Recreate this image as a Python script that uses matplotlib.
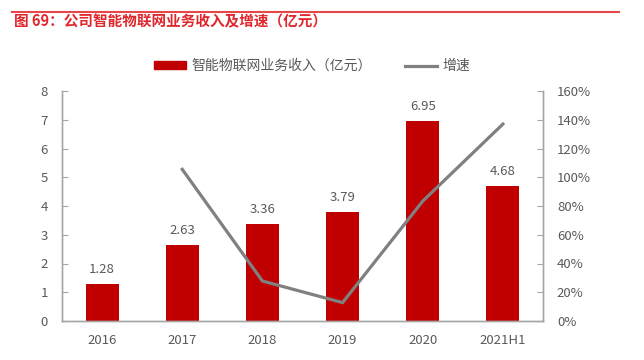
import matplotlib
matplotlib.use("Agg")
import matplotlib.pyplot as plt
from matplotlib.lines import Line2D
from matplotlib.ticker import FuncFormatter

plt.rcParams['font.family'] = ['Noto Sans CJK SC', 'DejaVu Sans']

categories = ["2016", "2017", "2018", "2019", "2020", "2021H1"]
revenue = [1.28, 2.63, 3.36, 3.79, 6.95, 4.68]
growth = [None, 105.5, 27.8, 12.8, 83.4, 137.0]

title = "图 69：公司智能物联网业务收入及增速（亿元）"
bar_label = "智能物联网业务收入（亿元）"
line_label = "增速"

red = "#C00000"
grey_line = "#808080"
text_col = "#595959"
spine_col = "#A6A6A6"

fig = plt.figure(figsize=(6.44, 3.6), dpi=100)
ax = fig.add_axes([62/644, 1-321/360, (543-62)/644, (321-91)/360])
ax2 = ax.twinx()

x = list(range(len(categories)))
bars = ax.bar(x, revenue, width=0.41, color=red, zorder=2)
for xi, v in zip(x, revenue):
    ax.annotate(f"{v:.2f}", (xi, v), xytext=(0, 6), textcoords="offset points",
                ha="center", va="bottom", fontsize=9.5, color=text_col)

gx = [xi for xi, g in zip(x, growth) if g is not None]
gy = [g for g in growth if g is not None]
ax2.plot(gx, gy, color=grey_line, lw=2.3, solid_joinstyle='miter')

ax.set_xlim(-0.5, len(categories) - 0.5)
ax.set_ylim(0, 8)
ax.set_yticks(range(0, 9))
ax2.set_ylim(0, 160)
ax2.set_yticks(range(0, 161, 20))
ax2.yaxis.set_major_formatter(FuncFormatter(lambda v, p: f"{int(v)}%"))
ax.set_xticks(x)
ax.set_xticklabels(categories)

for a in (ax, ax2):
    a.spines['top'].set_visible(False)
    for s in ('left', 'right', 'bottom'):
        a.spines[s].set_color(spine_col)
        a.spines[s].set_linewidth(1.0)
    a.tick_params(axis='y', direction='in', length=4, color=spine_col,
                  labelcolor=text_col, labelsize=9.5)
ax.tick_params(axis='y', pad=10)
ax2.tick_params(axis='y', pad=10)
ax.tick_params(axis='x', length=0, pad=9, labelcolor=text_col, labelsize=9.5)

# title and rule
fig.add_artist(Line2D([12/644, 619/644], [1-12/360, 1-12/360], color="#E8474A", lw=1.5))
fig.text(14/644, 1-21/360, title, color="#E0252B", fontsize=10.5, fontweight='bold',
         ha='left', va='center')

handles = [plt.Rectangle((0, 0), 1, 1, color=red),
           Line2D([0], [0], color=grey_line, lw=2.3)]
leg = fig.legend(handles, [bar_label, line_label], ncol=2, frameon=False,
                 loc='center', bbox_to_anchor=(0.485, 1-66/360), fontsize=10,
                 handlelength=2.3, handleheight=0.5, columnspacing=2.4, handletextpad=0.4)
for t in leg.get_texts():
    t.set_color(text_col)

fig.savefig("out.png", dpi=100)
